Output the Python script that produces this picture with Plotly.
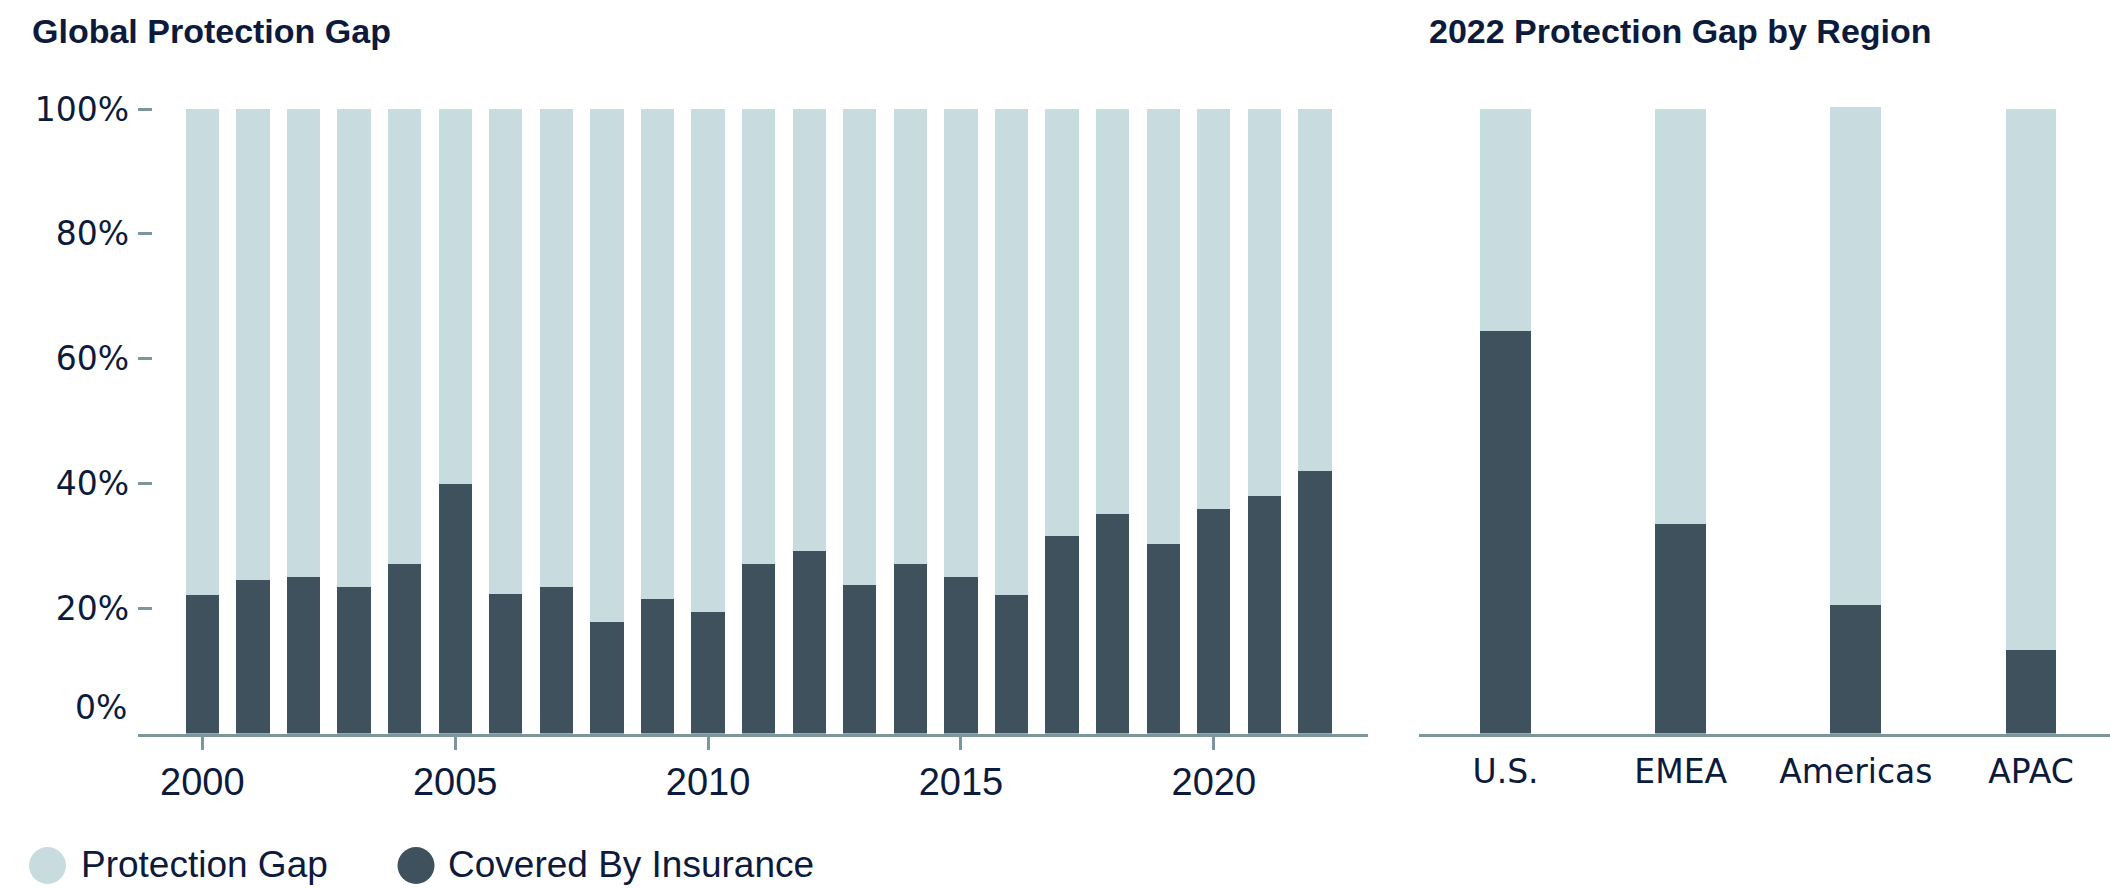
import plotly.graph_objects as go

W, H = 2110, 889

years = list(range(2000, 2023))
covered = [22.1, 24.6, 25.1, 23.4, 27.2, 39.9, 22.4, 23.4, 17.8, 21.6, 19.5, 27.2,
           29.2, 23.8, 27.2, 25.1, 22.1, 31.7, 35.2, 30.4, 36.0, 38.1, 42.0]
gap = [77.9, 75.4, 74.9, 76.6, 72.8, 60.1, 77.6, 76.6, 82.2, 78.4, 80.5, 72.8,
       70.8, 76.2, 72.8, 74.9, 77.9, 68.3, 64.8, 69.6, 64.0, 61.9, 58.0]

regions = ["U.S.", "EMEA", "Americas", "APAC"]
region_covered = [64.5, 33.5, 20.6, 13.4]
region_gap = [35.5, 66.5, 79.7, 86.6]

year_ticks = [2000, 2005, 2010, 2015, 2020]
pct_ticks = [20, 40, 60, 80, 100]
pct_labels = ["20%", "40%", "60%", "80%", "100%"]

LIGHT = "#c8dcdf"
DARK = "#3e515c"
NAVY = "#0c1a3c"
AXIS = "#7b969c"
SANS = "Liberation Sans, Arial, sans-serif"
WIDE = "DejaVu Sans, sans-serif"


def px(x):
    return x / W


def py(y):
    return 1 - y / H


fig = go.Figure()

fig.add_trace(go.Bar(x=years, y=covered, width=0.658, marker=dict(color=DARK, line=dict(width=0)),
                     name="Covered By Insurance", showlegend=False, xaxis="x", yaxis="y"))
fig.add_trace(go.Bar(x=years, y=gap, width=0.658, marker=dict(color=LIGHT, line=dict(width=0)),
                     name="Protection Gap", showlegend=False, xaxis="x", yaxis="y"))
fig.add_trace(go.Bar(x=regions, y=region_covered, width=0.291, marker=dict(color=DARK, line=dict(width=0)),
                     name="Covered By Insurance", showlegend=False, xaxis="x2", yaxis="y2"))
fig.add_trace(go.Bar(x=regions, y=region_gap, width=0.291, marker=dict(color=LIGHT, line=dict(width=0)),
                     name="Protection Gap", showlegend=False, xaxis="x2", yaxis="y2"))

ydom = [py(733.5), py(102.75)]

fig.update_layout(
    width=W, height=H,
    margin=dict(l=0, r=0, t=0, b=0),
    barmode="stack",
    plot_bgcolor="white",
    paper_bgcolor="white",
    showlegend=False,
    xaxis=dict(domain=[px(138), px(1367.7)], range=[1998.729, 2023.042],
               tickvals=year_ticks, ticks="outside", ticklen=13, tickwidth=2.5, tickcolor=AXIS,
               showline=True, linecolor=AXIS, linewidth=3, showgrid=False, zeroline=False,
               tickfont=dict(family=SANS, size=38, color=NAVY), ticklabelstandoff=0,
               automargin=False, fixedrange=True),
    yaxis=dict(domain=ydom, range=[0, 101], tickvals=pct_ticks, ticktext=pct_labels,
               ticks="inside", ticklen=14, tickwidth=2.5, tickcolor=AXIS,
               showline=False, showgrid=False, zeroline=False,
               tickfont=dict(family=WIDE, size=33, color=NAVY), ticklabelstandoff=8,
               automargin=False, fixedrange=True),
    xaxis2=dict(domain=[px(1419), 1], range=[-0.494, 3.451], type="category",
                ticks="", showline=True, linecolor=AXIS, linewidth=3, showgrid=False,
                zeroline=False, tickfont=dict(family=WIDE, size=33, color=NAVY),
                ticklabelstandoff=7, automargin=False, fixedrange=True),
    yaxis2=dict(domain=ydom, range=[0, 101], anchor="x2", showticklabels=False,
                ticks="", showline=False, showgrid=False, zeroline=False,
                automargin=False, fixedrange=True),
)

annotations = [
    dict(text="<b>Global Protection Gap</b>", x=px(30), y=py(31), xanchor="left", yanchor="middle",
         font=dict(family=SANS, size=34, color=NAVY)),
    dict(text="<b>2022 Protection Gap by Region</b>", x=px(1427), y=py(31), xanchor="left",
         yanchor="middle", font=dict(family=SANS, size=34, color=NAVY)),
    dict(text="0%", x=px(129), y=py(707), xanchor="right", yanchor="middle",
         font=dict(family=WIDE, size=33, color=NAVY)),
    dict(text="Protection Gap", x=px(79), y=py(864), xanchor="left", yanchor="middle",
         font=dict(family=SANS, size=37, color=NAVY)),
    dict(text="Covered By Insurance", x=px(446), y=py(864), xanchor="left", yanchor="middle",
         font=dict(family=SANS, size=37, color=NAVY)),
]
for a in annotations:
    a.update(xref="paper", yref="paper", showarrow=False)
fig.update_layout(annotations=annotations)

for cx, col in [(47.5, LIGHT), (416, DARK)]:
    fig.add_shape(type="circle", xref="paper", yref="paper", xsizemode="pixel", ysizemode="pixel",
                  xanchor=px(cx), yanchor=py(865.5), x0=-18.5, x1=18.5, y0=-18.5, y1=18.5,
                  fillcolor=col, line=dict(width=0))

fig.write_html("out.html", config={"displayModeBar": False},
               post_script="document.body.style.margin='0px';document.body.style.overflow='hidden';")
